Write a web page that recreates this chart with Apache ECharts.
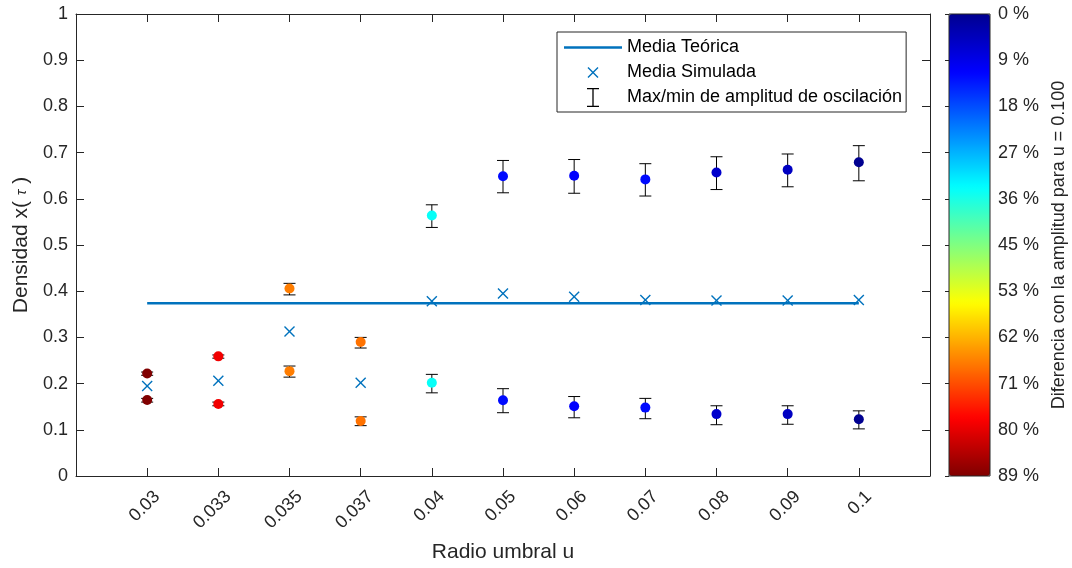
<!DOCTYPE html>
<html lang="es">

<head>
    <meta charset="UTF-8">
    <title>Densidad vs radio umbral</title>
    <style>
        html, body { margin: 0; padding: 0; background: #fff; }
    </style>
</head>

<body>
    <div id="main" style="width: 1072px; height: 568px"></div>
    <script src="https://cdn.jsdelivr.net/npm/echarts@6/dist/echarts.min.js"></script>
    <script type="text/javascript">
        // datos
        var uLabels = ['0.03', '0.033', '0.035', '0.037', '0.04', '0.05', '0.06', '0.07', '0.08', '0.09', '0.1'];
        var mediaTeorica = 0.374;
        var mediaSimulada = [0.195, 0.206, 0.313, 0.202, 0.378, 0.395, 0.388, 0.381, 0.380, 0.380, 0.381];
        // maximo de la oscilacion (punto, extremo inferior, extremo superior)
        var maxMedia = [0.222, 0.259, 0.406, 0.290, 0.564, 0.649, 0.650, 0.642, 0.657, 0.663, 0.679];
        var maxLow = [0.218, 0.255, 0.392, 0.277, 0.538, 0.613, 0.612, 0.606, 0.620, 0.626, 0.639];
        var maxHigh = [0.225, 0.262, 0.417, 0.300, 0.587, 0.683, 0.685, 0.676, 0.691, 0.697, 0.715];
        // minimo de la oscilacion
        var minMedia = [0.1645, 0.156, 0.227, 0.119, 0.202, 0.164, 0.151, 0.148, 0.134, 0.134, 0.123];
        var minLow = [0.160, 0.152, 0.214, 0.109, 0.180, 0.137, 0.126, 0.124, 0.111, 0.112, 0.102];
        var minHigh = [0.168, 0.160, 0.238, 0.128, 0.220, 0.189, 0.172, 0.168, 0.152, 0.152, 0.141];
        // diferencia con la amplitud para u = 0.100 (%)
        var diffPct = [89, 79, 67, 68, 34, 12, 11, 12, 6, 5, 0];
        var cbLabels = ['0 %', '9 %', '18 %', '27 %', '36 %', '45 %', '53 %', '62 %', '71 %', '80 %', '89 %'];
        var yTicks = [0, 0.1, 0.2, 0.3, 0.4, 0.5, 0.6, 0.7, 0.8, 0.9, 1];

        var jet = ['#000090', '#0000ff', '#0080ff', '#00ffff', '#80ff80', '#ffff00', '#ff8000', '#ff0000', '#800000'];
        var txt = '#262626';
        var font = "'Liberation Sans', Arial, Helvetica, sans-serif";
        var idx = uLabels.map(function (s, i) { return i; });

        var crossPath = 'path://M9,0L50,41L91,0L100,9L59,50L100,91L91,100L50,59L9,100L0,91L41,50L0,9Z';
        var iconLine = 'path://M0,0M58,19M0,8.25h58v2.5H0z';
        var iconCross = 'path://M0,0M58,19M24.49,4L29,8.51L33.51,4L34.5,4.99L29.99,9.5L34.5,14.01L33.51,15L29,10.49L24.49,15L23.5,14.01L28.01,9.5L23.5,4.99Z';
        var iconErr = 'path://M0,0M58,19M23,0h12v1.3H23zM28.35,0h1.3v19h-1.3zM23,17.7h12v1.3H23z';

        function renderErrorBar(params, api) {
            var x = api.value(0);
            var lo = api.coord([x, api.value(1)]);
            var hi = api.coord([x, api.value(2)]);
            var half = 6;
            var style = { stroke: '#000', lineWidth: 1, fill: null };
            return {
                type: 'group',
                children: [
                    { type: 'line', shape: { x1: hi[0], y1: hi[1], x2: lo[0], y2: lo[1] }, style: style },
                    { type: 'line', shape: { x1: hi[0] - half, y1: hi[1], x2: hi[0] + half, y2: hi[1] }, style: style },
                    { type: 'line', shape: { x1: lo[0] - half, y1: lo[1], x2: lo[0] + half, y2: lo[1] }, style: style }
                ]
            };
        }

        var axisLineStyle = { show: true, onZero: false, lineStyle: { color: txt, width: 1 } };

        var myChart = echarts.init(document.getElementById('main'));

        var option = {
            animation: false,
            backgroundColor: '#fff',
            textStyle: { fontFamily: font },
            grid: [
                { left: 76, top: 14, width: 854, height: 462 },
                { left: 949, top: 14, width: 41, height: 462, show: true, borderColor: txt, borderWidth: 1, backgroundColor: 'transparent', z: 10 }
            ],
            legend: {
                orient: 'vertical',
                left: 557,
                top: 32,
                padding: [6, 4, 5, 7],
                itemGap: 6,
                itemWidth: 58,
                itemHeight: 19,
                borderColor: txt,
                borderWidth: 1,
                backgroundColor: '#fff',
                itemStyle: { borderWidth: 0 },
                textStyle: { fontSize: 18, color: '#000', fontFamily: font },
                selectedMode: false,
                data: [
                    { name: 'Media Teórica', icon: iconLine },
                    { name: 'Media Simulada', icon: iconCross },
                    { name: 'Max/min de amplitud de oscilación', icon: iconErr }
                ]
            },
            visualMap: {
                type: 'continuous',
                min: 0,
                max: 89,
                dimension: 2,
                seriesIndex: [4, 5],
                inverse: true,
                calculable: false,
                hoverLink: false,
                left: 949,
                top: 14,
                padding: 0,
                itemWidth: 41,
                itemHeight: 462,
                inRange: { color: jet, opacity: 1 }
            },
            xAxis: [
                {
                    gridIndex: 0, type: 'value', position: 'bottom', min: -1, max: 11,
                    name: 'Radio umbral u', nameLocation: 'middle', nameGap: 66,
                    nameTextStyle: { fontSize: 21, color: txt },
                    axisLine: axisLineStyle,
                    axisTick: { inside: true, length: 8, customValues: idx, lineStyle: { color: txt } },
                    axisLabel: { show: false },
                    splitLine: { show: false }
                },
                {
                    gridIndex: 0, type: 'value', position: 'top', min: -1, max: 11,
                    axisLine: axisLineStyle,
                    axisTick: { inside: true, length: 8, customValues: idx, lineStyle: { color: txt } },
                    axisLabel: { show: false },
                    splitLine: { show: false }
                },
                {
                    // solo etiquetas, desplazadas como en la figura
                    gridIndex: 0, type: 'value', position: 'bottom', min: -1.14, max: 10.86,
                    axisLine: { show: false },
                    axisTick: { show: false },
                    axisLabel: {
                        customValues: idx, rotate: 45, margin: 18, fontSize: 18, color: txt,
                        formatter: function (v) { return uLabels[Math.round(v)] || ''; }
                    },
                    splitLine: { show: false }
                },
                { gridIndex: 1, type: 'value', show: false, min: 0, max: 1 }
            ],
            yAxis: [
                {
                    gridIndex: 0, type: 'value', position: 'left', min: 0, max: 1, interval: 0.1,
                    name: 'Densidad x( {t|τ} )', nameLocation: 'middle', nameGap: 42, nameRotate: 90,
                    nameTextStyle: { fontSize: 21, color: txt, rich: { t: { fontSize: 15, fontStyle: 'italic', color: txt } } },
                    axisLine: axisLineStyle,
                    axisTick: { inside: true, length: 8, lineStyle: { color: txt } },
                    axisLabel: { fontSize: 18, color: txt, margin: 8, customValues: yTicks },
                    splitLine: { show: false }
                },
                {
                    gridIndex: 0, type: 'value', position: 'right', min: 0, max: 1, interval: 0.1,
                    axisLine: axisLineStyle,
                    axisTick: { inside: true, length: 8, lineStyle: { color: txt } },
                    axisLabel: { show: false },
                    splitLine: { show: false }
                },
                {
                    gridIndex: 1, type: 'value', position: 'right', min: 0, max: 10, interval: 1, inverse: true,
                    name: 'Diferencia con la amplitud para u = 0.100', nameLocation: 'middle', nameGap: 60, nameRotate: 90,
                    nameTextStyle: { fontSize: 18, color: txt },
                    axisLine: { show: false },
                    axisTick: { inside: true, length: 4, lineStyle: { color: txt } },
                    axisLabel: {
                        fontSize: 18, color: txt, margin: 8,
                        formatter: function (v) { return cbLabels[Math.round(v)]; }
                    },
                    splitLine: { show: false },
                    z: 11
                }
            ],
            series: [
                {
                    name: 'Media Teórica', type: 'line', xAxisIndex: 0, yAxisIndex: 0,
                    data: [[idx[0], mediaTeorica], [idx[idx.length - 1], mediaTeorica]],
                    showSymbol: false, symbol: 'none',
                    itemStyle: { color: '#0072BD' },
                    lineStyle: { color: '#0072BD', width: 2.5 }
                },
                {
                    name: 'Media Simulada', type: 'scatter', xAxisIndex: 0, yAxisIndex: 0,
                    data: idx.map(function (i) { return [i, mediaSimulada[i]]; }),
                    symbol: crossPath, symbolSize: 11,
                    itemStyle: { color: '#0072BD', opacity: 1 }
                },
                {
                    name: 'Max/min de amplitud de oscilación', type: 'custom', xAxisIndex: 0, yAxisIndex: 0,
                    renderItem: renderErrorBar,
                    itemStyle: { color: '#000' },
                    encode: { x: 0, y: [1, 2] },
                    data: idx.map(function (i) { return [i, maxLow[i], maxHigh[i]]; })
                },
                {
                    name: 'Max/min de amplitud de oscilación', type: 'custom', xAxisIndex: 0, yAxisIndex: 0,
                    renderItem: renderErrorBar,
                    itemStyle: { color: '#000' },
                    encode: { x: 0, y: [1, 2] },
                    data: idx.map(function (i) { return [i, minLow[i], minHigh[i]]; })
                },
                {
                    name: 'max', type: 'scatter', xAxisIndex: 0, yAxisIndex: 0,
                    symbol: 'circle', symbolSize: 10,
                    itemStyle: { opacity: 1 },
                    data: idx.map(function (i) { return [i, maxMedia[i], diffPct[i]]; })
                },
                {
                    name: 'min', type: 'scatter', xAxisIndex: 0, yAxisIndex: 0,
                    symbol: 'circle', symbolSize: 10,
                    itemStyle: { opacity: 1 },
                    data: idx.map(function (i) { return [i, minMedia[i], diffPct[i]]; })
                }
            ]
        };
        myChart.setOption(option);

        window.onresize = function () {
            myChart.resize();
        };
    </script>
</body>

</html>
